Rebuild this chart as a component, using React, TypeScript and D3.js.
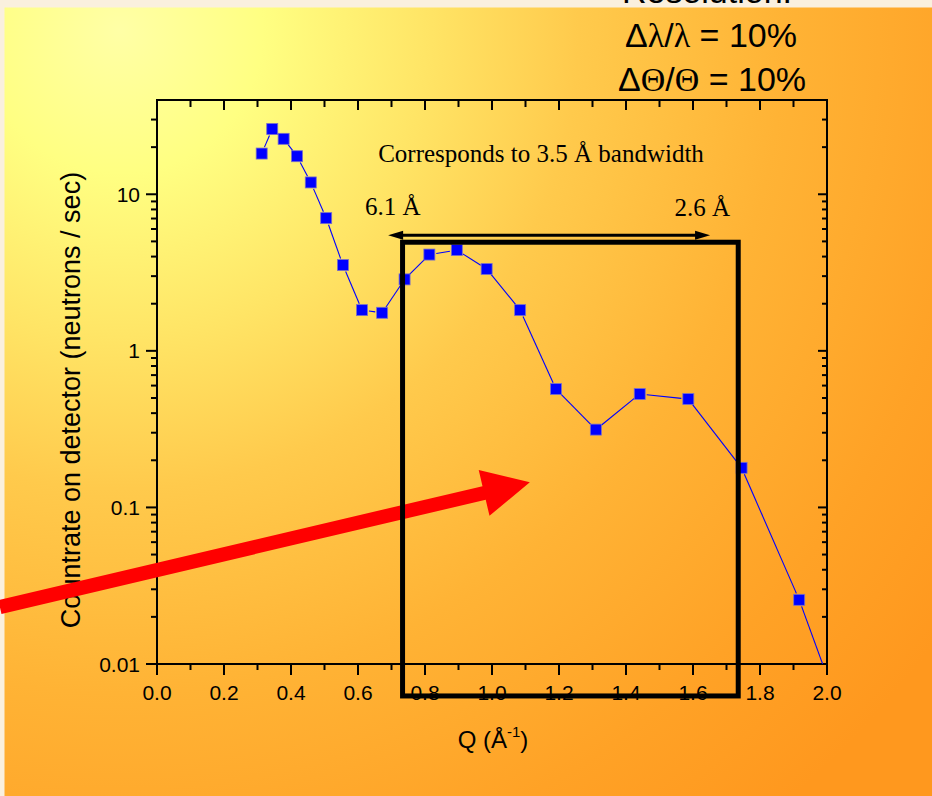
import React from 'react';
import * as d3 from 'd3';

// Measured count rate versus momentum transfer
const qValues = [0.3125, 0.344, 0.378, 0.418, 0.459, 0.505, 0.555, 0.612, 0.672, 0.739, 0.813, 0.895, 0.984, 1.084, 1.191, 1.31, 1.441, 1.586, 1.745, 1.917, 2.02];
const countRates = [18.2, 26.1, 22.6, 17.5, 11.9, 7.04, 3.53, 1.82, 1.75, 2.86, 4.12, 4.4, 3.33, 1.82, 0.57, 0.314, 0.53, 0.492, 0.179, 0.0257, 0.0064];

// Axis ticks
const xMajorTicks = d3.range(0, 11).map((i) => i * 0.2);
const xMinorTicks = d3.range(1, 20, 2).map((i) => i * 0.1);
const yMajorTicks = [0.01, 0.1, 1, 10];
const yTickLabels = ['0.01', '0.1', '1', '10'];
const yMinorTicks = yMajorTicks.flatMap((d) => d3.range(2, 10).map((k) => d * k)).filter((v) => v < 40);

// Bandwidth window (Q range covered by 6.1 Å .. 2.6 Å)
const windowQ = [0.733, 1.735];
const windowRate = [0.00625, 4.94];
const bandArrowQ = [0.69, 1.651];
const bandArrowRate = 5.48;

// Pointer arrow (tail, tip)
const pointerQ = [-0.469, 1.113];
const pointerRate = [0.0231, 0.145];

const SANS = '"Liberation Sans", Arial, sans-serif';
const SERIF = '"Liberation Serif", "Times New Roman", serif';

export default function App() {
  const W = 932;
  const H = 796;
  const left = 157, right = 827, top = 100, bottom = 664;

  const x = d3.scaleLinear().domain([0, 2]).range([left, right]);
  const y = d3.scaleLog().domain([0.01, 40]).range([bottom, top]);

  const pts = qValues.map((q, i) => [x(q), y(countRates[i])] as [number, number]);

  // connecting segments stop short of each marker
  const gap = 7;
  const segments = pts.slice(1).map((p, i) => {
    const a = pts[i];
    const dx = p[0] - a[0];
    const dy = p[1] - a[1];
    const L = Math.hypot(dx, dy);
    if (L <= 2 * gap) return null;
    const ux = dx / L, uy = dy / L;
    return [a[0] + ux * gap, a[1] + uy * gap, p[0] - ux * gap, p[1] - uy * gap];
  });

  const markerSize = 11;

  // pointer arrow polygon
  const tail = [x(pointerQ[0]), y(pointerRate[0])];
  const tip = [x(pointerQ[1]), y(pointerRate[1])];
  const pdx = tip[0] - tail[0], pdy = tip[1] - tail[1];
  const pL = Math.hypot(pdx, pdy);
  const ux = pdx / pL, uy = pdy / pL;
  const nx = -uy, ny = ux;
  const headLen = 47, headHalf = 23.5, bodyHalf = 7;
  const base = [tip[0] - ux * headLen, tip[1] - uy * headLen];
  const pointerPoly = [
    [tail[0] + nx * bodyHalf, tail[1] + ny * bodyHalf],
    [base[0] + nx * bodyHalf, base[1] + ny * bodyHalf],
    [base[0] + nx * headHalf, base[1] + ny * headHalf],
    tip,
    [base[0] - nx * headHalf, base[1] - ny * headHalf],
    [base[0] - nx * bodyHalf, base[1] - ny * bodyHalf],
    [tail[0] - nx * bodyHalf, tail[1] - ny * bodyHalf],
  ].map((p) => p.join(',')).join(' ');

  // double arrow
  const ax0 = x(bandArrowQ[0]);
  const ax1 = x(bandArrowQ[1]);
  const ay = y(bandArrowRate);
  const ahLen = 15, ahHalf = 4.5;

  const bx0 = x(windowQ[0]), bx1 = x(windowQ[1]);
  const by0 = y(windowRate[1]), by1 = y(windowRate[0]);

  return (
    <svg
      width={W}
      height={H}
      viewBox={`0 0 ${W} ${H}`}
      style={{ position: 'absolute', left: 0, top: 0, display: 'block' }}
    >
      <defs>
        <radialGradient id="panelFill" gradientUnits="userSpaceOnUse" cx={120} cy={30} r={1020}>
          <stop offset="0" stopColor="#FFFFA6" />
          <stop offset="0.14" stopColor="#FFFF82" />
          <stop offset="0.3" stopColor="#FFE566" />
          <stop offset="0.45" stopColor="#FFCA4C" />
          <stop offset="0.65" stopColor="#FFB335" />
          <stop offset="0.85" stopColor="#FFA226" />
          <stop offset="1" stopColor="#FF981E" />
        </radialGradient>
        <clipPath id="plotClip">
          <rect x={left} y={top} width={right - left} height={bottom - top} />
        </clipPath>
      </defs>

      <rect x={0} y={0} width={W} height={H} fill="#FAF0DE" />
      <text x={707} y={3} textAnchor="middle" fontFamily={SANS} fontSize={34} fill="#000">Resolution:</text>
      <rect x={4.5} y={7.5} width={W - 4.5} height={H - 7.5} fill="url(#panelFill)" />

      {/* resolution text */}
      <g fontFamily={SANS} fontSize={34} fill="#000" textAnchor="middle">
        <text x={711} y={47}>
          <tspan>Δ</tspan>
          <tspan fontFamily={SERIF}>λ</tspan>
          <tspan>/</tspan>
          <tspan fontFamily={SERIF}>λ</tspan>
          <tspan> = 10%</tspan>
        </text>
        <text x={712} y={91}>
          <tspan>Δ</tspan>
          <tspan fontFamily={SERIF}>Θ</tspan>
          <tspan>/</tspan>
          <tspan fontFamily={SERIF}>Θ</tspan>
          <tspan> = 10%</tspan>
        </text>
      </g>

      {/* frame */}
      <rect x={left} y={top} width={right - left} height={bottom - top} fill="none" stroke="#000" strokeWidth={2} />

      {/* bottom & top ticks */}
      <g stroke="#000" strokeWidth={2}>
        {xMajorTicks.map((t) => (
          <g key={`xM${t}`}>
            <line x1={x(t)} x2={x(t)} y1={bottom} y2={bottom + 11} />
            <line x1={x(t)} x2={x(t)} y1={top} y2={top + 10} />
          </g>
        ))}
        {xMinorTicks.map((t) => (
          <g key={`xm${t}`}>
            <line x1={x(t)} x2={x(t)} y1={bottom} y2={bottom + 6} />
            <line x1={x(t)} x2={x(t)} y1={top} y2={top + 7} />
          </g>
        ))}
        {yMajorTicks.map((t) => (
          <g key={`yM${t}`}>
            <line x1={left - 11} x2={left} y1={y(t)} y2={y(t)} />
            <line x1={right - 9} x2={right} y1={y(t)} y2={y(t)} />
          </g>
        ))}
        {yMinorTicks.map((t) => (
          <g key={`ym${t}`}>
            <line x1={left - 6} x2={left} y1={y(t)} y2={y(t)} />
            <line x1={right - 5} x2={right} y1={y(t)} y2={y(t)} />
          </g>
        ))}
      </g>

      {/* tick labels */}
      <g fontFamily={SANS} fontSize={21} fill="#000">
        {xMajorTicks.map((t) => (
          <text key={`xl${t}`} x={x(t)} y={bottom + 36} textAnchor="middle">{d3.format('.1f')(t)}</text>
        ))}
        {yMajorTicks.map((t, i) => (
          <text key={`yl${t}`} x={left - 17} y={y(t)} dy="0.36em" textAnchor="end">{yTickLabels[i]}</text>
        ))}
      </g>

      {/* axis titles */}
      <text x={493} y={748} textAnchor="middle" fontFamily={SANS} fontSize={24} fill="#000">
        <tspan>Q (Å</tspan>
        <tspan fontSize={15} dy={-11}>-1</tspan>
        <tspan dy={11}>)</tspan>
      </text>
      <text
        transform={`translate(80, 400) rotate(-90)`}
        textAnchor="middle"
        fontFamily={SANS}
        fontSize={27}
        fill="#000"
      >
        Countrate on detector (neutrons / sec)
      </text>

      {/* data */}
      <g clipPath="url(#plotClip)">
        {segments.map((s, i) =>
          s ? <line key={`s${i}`} x1={s[0]} y1={s[1]} x2={s[2]} y2={s[3]} stroke="#0000FF" strokeWidth={1.1} /> : null
        )}
        {pts.map((p, i) => (
          <rect
            key={`p${i}`}
            x={p[0] - markerSize / 2}
            y={p[1] - markerSize / 2}
            width={markerSize}
            height={markerSize}
            fill="#0000FF"
            stroke="#7A6FC8"
            strokeWidth={0.8}
          />
        ))}
      </g>

      {/* annotations */}
      <g fontFamily={SERIF} fontSize={25} fill="#000">
        <text x={541} y={162} textAnchor="middle">Corresponds to 3.5 Å bandwidth</text>
        <text x={365} y={215}>6.1 Å</text>
        <text x={730} y={216} textAnchor="end">2.6 Å</text>
      </g>

      <line x1={ax0 + ahLen - 1} x2={ax1 - ahLen + 1} y1={ay} y2={ay} stroke="#000" strokeWidth={3} />
      <polygon points={`${ax0},${ay} ${ax0 + ahLen},${ay - ahHalf} ${ax0 + ahLen},${ay + ahHalf}`} fill="#000" />
      <polygon points={`${ax1},${ay} ${ax1 - ahLen},${ay - ahHalf} ${ax1 - ahLen},${ay + ahHalf}`} fill="#000" />

      <polygon points={pointerPoly} fill="#FF0000" />

      <rect x={bx0} y={by0} width={bx1 - bx0} height={by1 - by0} fill="none" stroke="#000" strokeWidth={5} />
    </svg>
  );
}
